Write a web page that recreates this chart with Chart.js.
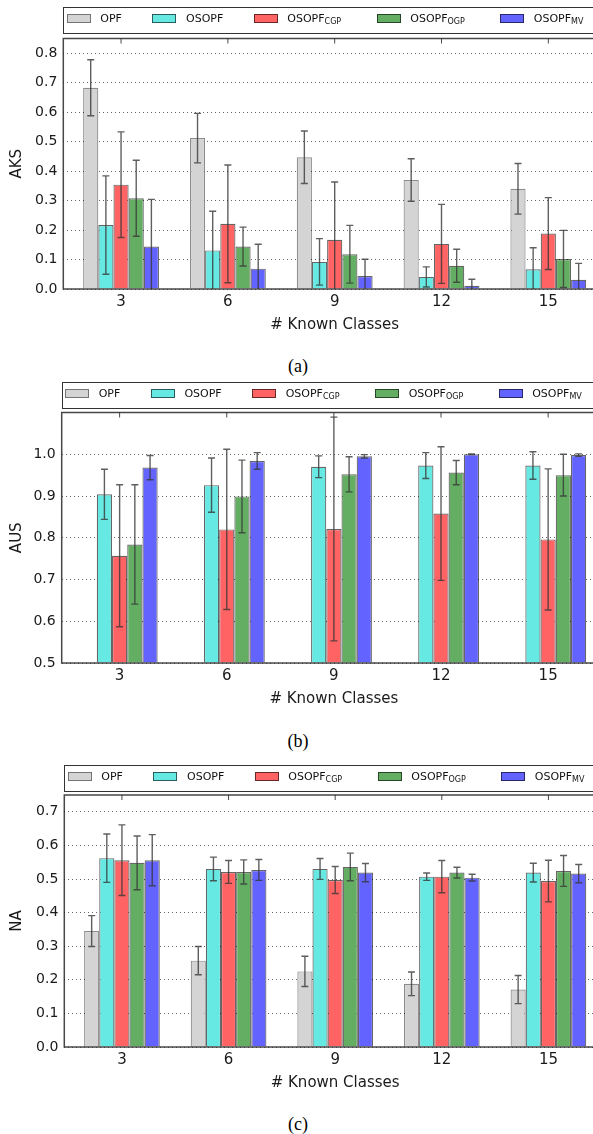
<!DOCTYPE html>
<html>
<head>
<meta charset="utf-8">
<script src="https://cdn.jsdelivr.net/npm/chart.js@4.4.0/dist/chart.umd.min.js"></script>
<style>
  html, body { margin: 0; padding: 0; background: #fff; overflow: hidden; }
  body { position: relative; width: 593px; height: 1134px; }
  canvas { position: absolute; left: 0; }
  .legend { position: absolute; height: 27px; border: 1.5px solid #333; box-sizing: border-box;
            font-family: 'DejaVu Sans'; font-size: 11px; color: #111; }
  .legend .patch { position: absolute; top: 5.5px; width: 24px; height: 9px; box-sizing: border-box;
                   border: 1px solid rgba(0,0,0,0.55); }
  .legend .name { position: absolute; top: 3.5px; line-height: 14px; white-space: nowrap; }
  .legend sub { font-size: 8px; vertical-align: -2px; line-height: 0; }
  .caption { position: absolute; left: 0; width: 596px; text-align: center; line-height: 20px;
             font-family: 'Liberation Serif'; font-size: 18px; color: #000; }
</style>
</head>
<body>
<canvas id="aks" width="606" height="307"></canvas>
<canvas id="aus" width="606" height="307"></canvas>
<canvas id="na" width="606" height="307"></canvas>
<script>
// number of known classes on the x axis
var knownClasses = [3, 6, 9, 12, 15];

// legend names: base text plus subscript
var seriesNames = ['OPF', 'OSOPF', 'OSOPF', 'OSOPF', 'OSOPF'];
var seriesSubs = ['', '', 'CGP', 'OGP', 'MV'];

// AKS means and standard deviations
var aksOPF = [0.683, 0.512, 0.447, 0.370, 0.340];
var aksOPFErr = [0.095, 0.084, 0.089, 0.072, 0.086];
var aksOSOPF = [0.217, 0.131, 0.092, 0.041, 0.067];
var aksOSOPFErr = [0.167, 0.133, 0.079, 0.034, 0.073];
var aksCGP = [0.354, 0.221, 0.167, 0.153, 0.188];
var aksCGPErr = [0.179, 0.200, 0.196, 0.134, 0.122];
var aksOGP = [0.308, 0.144, 0.118, 0.079, 0.102];
var aksOGPErr = [0.129, 0.066, 0.098, 0.056, 0.097];
var aksMV = [0.144, 0.069, 0.044, 0.011, 0.031];
var aksMVErr = [0.160, 0.083, 0.057, 0.022, 0.056];

// AUS (no OPF values)
var ausOPF = [null, null, null, null, null];
var ausOPFErr = [null, null, null, null, null];
var ausOSOPF = [0.904, 0.926, 0.970, 0.973, 0.973];
var ausOSOPFErr = [0.060, 0.065, 0.026, 0.031, 0.033];
var ausCGP = [0.757, 0.820, 0.821, 0.858, 0.796];
var ausCGPErr = [0.170, 0.192, 0.268, 0.160, 0.169];
var ausOGP = [0.784, 0.899, 0.952, 0.956, 0.950];
var ausOGPErr = [0.143, 0.087, 0.042, 0.029, 0.050];
var ausMV = [0.968, 0.984, 0.995, 1.000, 0.998];
var ausMVErr = [0.029, 0.020, 0.004, 0.001, 0.003];

// NA
var naOPF = [0.345, 0.257, 0.225, 0.188, 0.171];
var naOPFErr = [0.046, 0.042, 0.045, 0.035, 0.042];
var naOSOPF = [0.562, 0.530, 0.530, 0.507, 0.519];
var naOSOPFErr = [0.072, 0.035, 0.031, 0.011, 0.028];
var naCGP = [0.556, 0.521, 0.497, 0.507, 0.494];
var naCGPErr = [0.105, 0.034, 0.040, 0.048, 0.062];
var naOGP = [0.548, 0.521, 0.536, 0.519, 0.524];
var naOGPErr = [0.080, 0.036, 0.041, 0.016, 0.046];
var naMV = [0.556, 0.527, 0.519, 0.504, 0.516];
var naMVErr = [0.076, 0.031, 0.027, 0.010, 0.027];

// y tick labels per panel
var aksTicks = [0.0, 0.1, 0.2, 0.3, 0.4, 0.5, 0.6, 0.7, 0.8];
var ausTicks = [0.5, 0.6, 0.7, 0.8, 0.9, 1.0];
var naTicks = [0.0, 0.1, 0.2, 0.3, 0.4, 0.5, 0.6, 0.7];

// bar styling
var fills = ['rgb(212,212,212)', 'rgb(102,233,227)', 'rgb(255,99,99)', 'rgb(99,174,99)', 'rgb(99,99,255)'];
var edges = ['rgba(0,0,0,0.45)', 'rgba(0,0,0,0.6)', 'rgba(0,0,0,0.6)', 'rgba(0,0,0,0.6)', 'rgba(0,0,0,0.6)'];
var legendSlots = [4, 89.7, 191, 314, 437.5];

var panels = [
  { id: 'aks', label: 'AKS', values: [aksOPF, aksOSOPF, aksCGP, aksOGP, aksMV],
    errors: [aksOPFErr, aksOSOPFErr, aksCGPErr, aksOGPErr, aksMVErr],
    ticks: aksTicks, min: 0, max: 0.85,
    top: 32, plotTop: 38.5, plotBottom: 288.5, left: 63.3, legendTop: 7, caption: '(a)', captionY: 356 },
  { id: 'aus', label: 'AUS', values: [ausOPF, ausOSOPF, ausCGP, ausOGP, ausMV],
    errors: [ausOPFErr, ausOSOPFErr, ausCGPErr, ausOGPErr, ausMVErr],
    ticks: ausTicks, min: 0.5, max: 1.1,
    top: 406, plotTop: 412.5, plotBottom: 662.7, left: 61.7, legendTop: 382, caption: '(b)', captionY: 731 },
  { id: 'na', label: 'NA', values: [naOPF, naOSOPF, naCGP, naOGP, naMV],
    errors: [naOPFErr, naOSOPFErr, naCGPErr, naOGPErr, naMVErr],
    ticks: naTicks, min: 0, max: 0.75,
    top: 789, plotTop: 795, plotBottom: 1046.7, left: 64.3, legendTop: 765, caption: '(c)', captionY: 1114 }
];

// vertical error bars with caps, clipped to the plot box
var errorBars = {
  id: 'errorBars',
  afterDatasetsDraw: function (chart) {
    var ctx = chart.ctx, area = chart.chartArea, y = chart.scales.y;
    ctx.save();
    ctx.beginPath();
    ctx.rect(area.left, area.top, area.right - area.left, area.bottom - area.top);
    ctx.clip();
    ctx.strokeStyle = 'rgba(55,55,55,0.8)';
    ctx.lineWidth = 1.4;
    chart.data.datasets.forEach(function (ds, i) {
      var meta = chart.getDatasetMeta(i);
      ds.errors.forEach(function (e, j) {
        var v = ds.data[j];
        if (v === null || e === null) return;
        var x = meta.data[j].x;
        var hi = y.getPixelForValue(v + e), lo = y.getPixelForValue(v - e);
        ctx.beginPath();
        ctx.moveTo(x, hi); ctx.lineTo(x, lo);
        ctx.moveTo(x - 3.5, hi); ctx.lineTo(x + 3.5, hi);
        ctx.moveTo(x - 3.5, lo); ctx.lineTo(x + 3.5, lo);
        ctx.stroke();
      });
    });
    ctx.restore();
  }
};

// axes box and inward tick marks on the top edge
var frame = {
  id: 'frame',
  afterDatasetsDraw: function (chart) {
    var ctx = chart.ctx, a = chart.chartArea, x = chart.scales.x;
    ctx.save();
    ctx.strokeStyle = 'rgba(40,40,40,0.85)';
    ctx.lineWidth = 1.5;
    ctx.strokeRect(a.left, a.top, a.right - a.left, a.bottom - a.top);
    ctx.lineWidth = 1;
    x.ticks.forEach(function (t) {
      var px = x.getPixelForValue(t.value);
      ctx.beginPath();
      ctx.moveTo(px, a.top);
      ctx.lineTo(px, a.top + 5);
      ctx.stroke();
    });
    ctx.restore();
  }
};

panels.forEach(function (p) {
  var canvas = document.getElementById(p.id);
  canvas.style.top = p.top + 'px';
  canvas.height = Math.round(p.plotBottom - p.top + 50);

  var datasets = p.values.map(function (vals, i) {
    return {
      label: seriesNames[i] + seriesSubs[i],
      data: vals,
      errors: p.errors[i],
      base: p.min,
      backgroundColor: fills[i],
      borderColor: edges[i],
      borderWidth: 1.2,
      clip: 0
    };
  });

  new Chart(canvas, {
    type: 'bar',
    data: { labels: knownClasses, datasets: datasets },
    options: {
      responsive: false,
      animation: false,
      devicePixelRatio: 1,
      categoryPercentage: 0.71,
      barPercentage: 1.0,
      layout: { padding: { top: p.plotTop - p.top, left: 0, right: 0, bottom: 0 } },
      plugins: { legend: { display: false }, tooltip: { enabled: false } },
      scales: {
        x: {
          type: 'linear',
          offset: false,
          min: 1.378,
          max: 16.62,
          grid: { display: false, drawTicks: false, offset: false },
          border: { display: false },
          ticks: { color: '#1a1a1a', padding: 4, font: { family: 'DejaVu Sans', size: 15 } },
          title: { display: true, text: '# Known Classes', color: '#1a1a1a',
                   font: { family: 'DejaVu Sans', size: 15 }, padding: { top: 0, bottom: 5 } },
          afterBuildTicks: function (scale) {
            scale.ticks = knownClasses.map(function (v) { return { value: v }; });
          },
          afterFit: function (scale) {
            scale.height = 50;
            scale.paddingLeft = 0;
            scale.paddingRight = 0;
          }
        },
        y: {
          min: p.min,
          max: p.max,
          grid: { color: 'rgba(0,0,0,0.6)', lineWidth: 1, drawTicks: false },
          border: { display: false, dash: [1, 3] },
          ticks: {
            color: '#1a1a1a', padding: 6, font: { family: 'DejaVu Sans', size: 14 },
            callback: function (v) { return v.toFixed(1); }
          },
          title: { display: true, text: p.label, color: '#1a1a1a',
                   font: { family: 'DejaVu Sans', size: 15 }, padding: { top: 8.5, bottom: 0 } },
          afterBuildTicks: function (scale) {
            scale.ticks = p.ticks.map(function (v) { return { value: v }; });
          },
          afterFit: function (scale) {
            scale.width = p.left;
            scale.paddingTop = 0;
            scale.paddingBottom = 0;
          }
        }
      }
    },
    plugins: [errorBars, frame]
  });

  // legend box above the plot
  var box = document.createElement('div');
  box.className = 'legend';
  box.style.left = p.left + 'px';
  box.style.top = p.legendTop + 'px';
  box.style.width = (606 - p.left) + 'px';
  seriesNames.forEach(function (name, i) {
    var patch = document.createElement('div');
    patch.className = 'patch';
    patch.style.left = (legendSlots[i] - 1.5) + 'px';
    patch.style.background = fills[i];
    patch.style.borderColor = edges[i];
    box.appendChild(patch);
    var text = document.createElement('div');
    text.className = 'name';
    text.style.left = (legendSlots[i] + 32) + 'px';
    text.innerHTML = name + (seriesSubs[i] ? '<sub>' + seriesSubs[i] + '</sub>' : '');
    box.appendChild(text);
  });
  document.body.appendChild(box);

  var cap = document.createElement('div');
  cap.className = 'caption';
  cap.style.top = p.captionY + 'px';
  cap.textContent = p.caption;
  document.body.appendChild(cap);
});
</script>
</body>
</html>
